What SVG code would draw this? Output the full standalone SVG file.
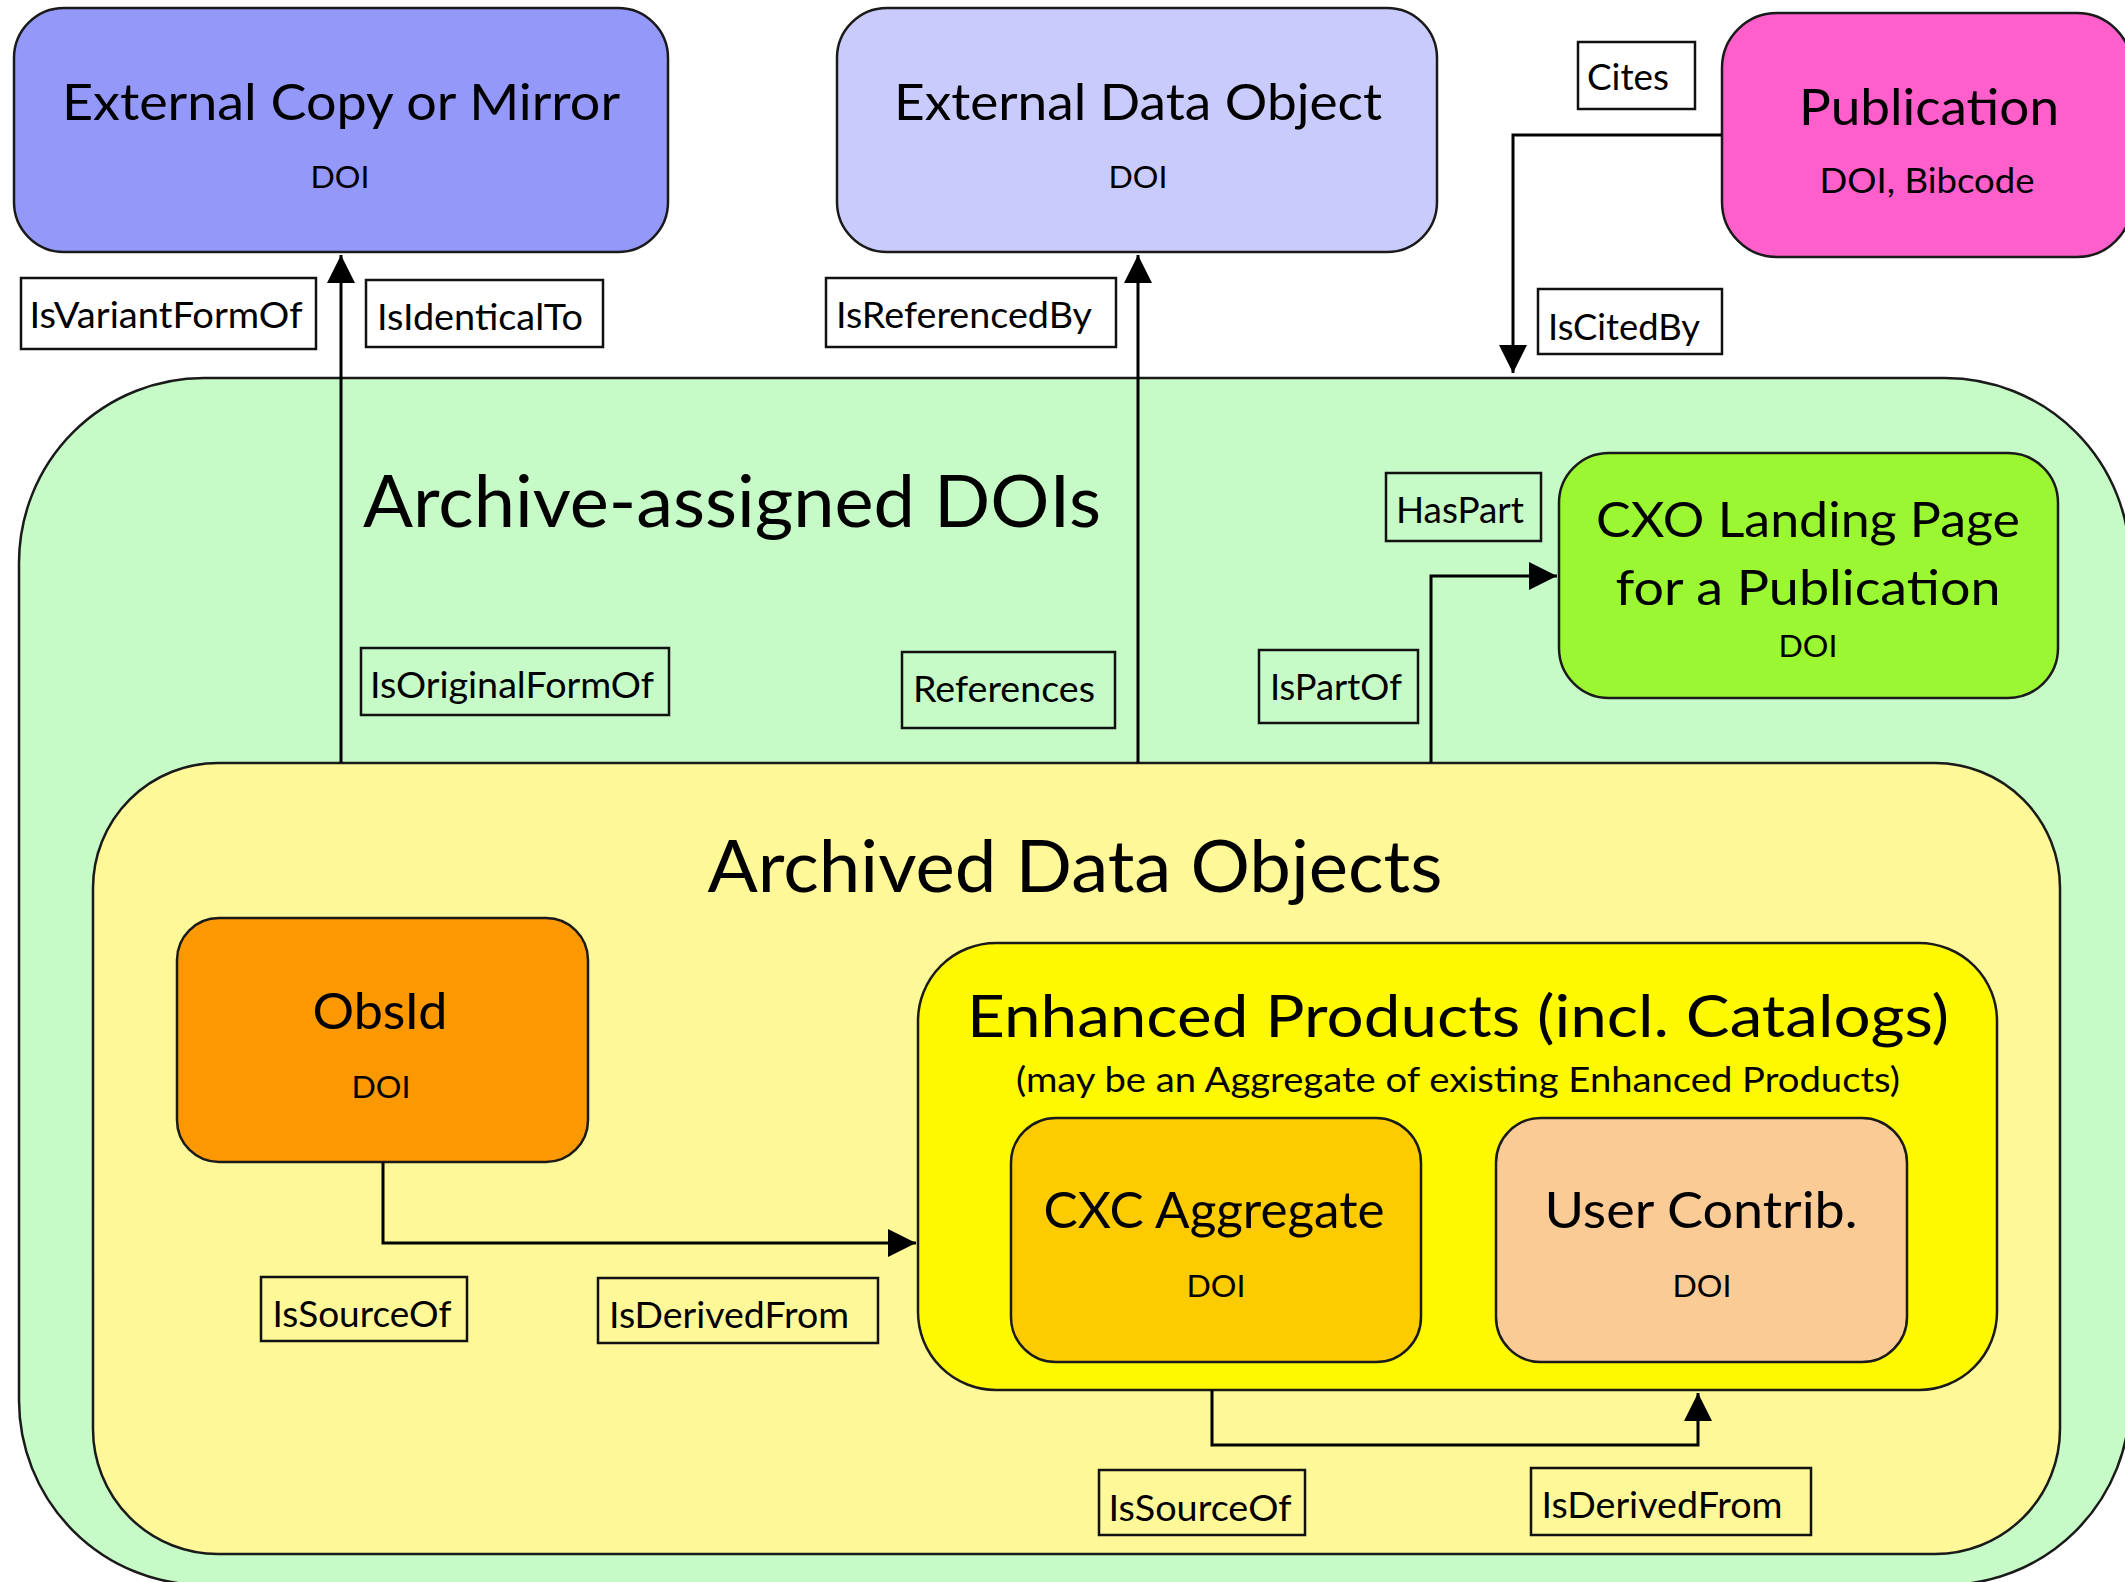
<svg xmlns="http://www.w3.org/2000/svg" width="2125" height="1582" viewBox="0 0 2125 1582">
  <style>
    text { font-family: Lato, "Open Sans", "Liberation Sans", sans-serif; fill: #000; text-anchor: middle; }
    .node { stroke: #1a1a1a; stroke-width: 2.5; }
    .lbl { fill: #ffffff; stroke: #111; stroke-width: 2.5; }
    .clear { fill: none; }
    .t-big { font-size: 72px; }
    .t-node { font-size: 51px; }
    .t-sub { font-size: 35px; }
    .t-doi { font-size: 31px; }
    .t-lab { font-size: 37px; }
    .conn { fill: none; stroke: #000; stroke-width: 3; marker-end: url(#arrow); }
  </style>
  <defs>
    <marker id="arrow" markerUnits="userSpaceOnUse" markerWidth="28" markerHeight="28" refX="28" refY="14" orient="auto">
      <path d="M0,0 L28,14 L0,28 Z" fill="#000"/>
    </marker>
  </defs>

  <rect width="2125" height="1582" fill="#ffffff"/>

  <!-- Containers -->
  <g id="archive-assigned-dois">
    <rect class="node" x="19" y="378" width="2111" height="1207" rx="185" fill="#c6fac6"/>
    <text class="t-big" x="732" y="527" textLength="738" lengthAdjust="spacingAndGlyphs">Archive-assigned DOIs</text>
  </g>

  <g id="archived-data-objects">
    <rect class="node" x="93" y="763" width="1967" height="791" rx="125" fill="#fff899"/>
    <text class="t-big" x="1075" y="892" textLength="735" lengthAdjust="spacingAndGlyphs">Archived Data Objects</text>
  </g>

  <g id="enhanced-products">
    <rect class="node" x="918" y="943" width="1079" height="447" rx="78" fill="#fff900"/>
    <text x="1458" y="1037" font-size="59" textLength="982" lengthAdjust="spacingAndGlyphs">Enhanced Products (incl. Catalogs)</text>
    <text class="t-sub" x="1458" y="1092" textLength="884" lengthAdjust="spacingAndGlyphs">(may be an Aggregate of existing Enhanced Products)</text>
  </g>

  <!-- Nodes -->
  <g id="external-copy">
    <rect class="node" x="14" y="8" width="654" height="244" rx="50" fill="#9498f9"/>
    <text class="t-node" x="341" y="120" textLength="558" lengthAdjust="spacingAndGlyphs">External Copy or Mirror</text>
    <text class="t-doi" x="340" y="188" textLength="59" lengthAdjust="spacingAndGlyphs">DOI</text>
  </g>

  <g id="external-data-object">
    <rect class="node" x="837" y="8" width="600" height="244" rx="50" fill="#c9cbfc"/>
    <text class="t-node" x="1138" y="120" textLength="488" lengthAdjust="spacingAndGlyphs">External Data Object</text>
    <text class="t-doi" x="1138" y="188" textLength="59" lengthAdjust="spacingAndGlyphs">DOI</text>
  </g>

  <g id="publication">
    <rect class="node" x="1722" y="13" width="410" height="244" rx="55" fill="#ff5fcb"/>
    <text class="t-node" x="1929" y="125" textLength="260" lengthAdjust="spacingAndGlyphs">Publication</text>
    <text class="t-sub" x="1927" y="193" textLength="215" lengthAdjust="spacingAndGlyphs">DOI, Bibcode</text>
  </g>

  <g id="cxo-landing-page">
    <rect class="node" x="1559" y="453" width="499" height="245" rx="50" fill="#9cf733"/>
    <text x="1808" y="537" font-size="49" textLength="424" lengthAdjust="spacingAndGlyphs">CXO Landing Page</text>
    <text x="1808" y="605" font-size="49" textLength="385" lengthAdjust="spacingAndGlyphs">for a Publication</text>
    <text class="t-doi" x="1808" y="657" textLength="59" lengthAdjust="spacingAndGlyphs">DOI</text>
  </g>

  <g id="obsid">
    <rect class="node" x="177" y="918" width="411" height="244" rx="42" fill="#fc9800"/>
    <text class="t-node" x="380" y="1029" textLength="135" lengthAdjust="spacingAndGlyphs">ObsId</text>
    <text class="t-doi" x="381" y="1098" textLength="59" lengthAdjust="spacingAndGlyphs">DOI</text>
  </g>

  <g id="cxc-aggregate">
    <rect class="node" x="1011" y="1118" width="410" height="244" rx="45" fill="#fccb00"/>
    <text x="1214" y="1228" font-size="50" textLength="341" lengthAdjust="spacingAndGlyphs">CXC Aggregate</text>
    <text class="t-doi" x="1216" y="1297" textLength="59" lengthAdjust="spacingAndGlyphs">DOI</text>
  </g>

  <g id="user-contrib">
    <rect class="node" x="1496" y="1118" width="411" height="244" rx="45" fill="#fbcb96"/>
    <text x="1701" y="1228" font-size="50" textLength="313" lengthAdjust="spacingAndGlyphs">User Contrib.</text>
    <text class="t-doi" x="1702" y="1297" textLength="59" lengthAdjust="spacingAndGlyphs">DOI</text>
  </g>

  <!-- Connectors -->
  <g id="connectors">
    <path class="conn" d="M341,763 V255"/>
    <path class="conn" d="M1138,763 V255"/>
    <path class="conn" d="M1722,135 H1513 V373"/>
    <path class="conn" d="M1431,763 V576 H1557"/>
    <path class="conn" d="M383,1162 V1243 H916"/>
    <path class="conn" d="M1212,1390 V1445 H1698 V1393"/>
  </g>

  <!-- Relation labels -->
  <g id="relation-labels">
    <g id="lbl-isvariantformof">
      <rect class="lbl" x="21" y="278" width="295" height="71"/>
      <text class="t-lab" x="166" y="328" textLength="273" lengthAdjust="spacingAndGlyphs">IsVariantFormOf</text>
    </g>
    <g id="lbl-isidenticalto">
      <rect class="lbl" x="366" y="280" width="237" height="67"/>
      <text class="t-lab" x="480" y="330" textLength="206" lengthAdjust="spacingAndGlyphs">IsIdenticalTo</text>
    </g>
    <g id="lbl-isreferencedby">
      <rect class="lbl" x="826" y="278" width="290" height="69"/>
      <text class="t-lab" x="964" y="328" textLength="256" lengthAdjust="spacingAndGlyphs">IsReferencedBy</text>
    </g>
    <g id="lbl-cites">
      <rect class="lbl" x="1578" y="42" width="117" height="67"/>
      <text class="t-lab" x="1628" y="90" textLength="82" lengthAdjust="spacingAndGlyphs">Cites</text>
    </g>
    <g id="lbl-iscitedby">
      <rect class="lbl" x="1538" y="289" width="184" height="65"/>
      <text class="t-lab" x="1624" y="340" textLength="152" lengthAdjust="spacingAndGlyphs">IsCitedBy</text>
    </g>
    <g id="lbl-isoriginalformof">
      <rect class="lbl clear" x="361" y="648" width="308" height="67"/>
      <text class="t-lab" x="512" y="698" textLength="284" lengthAdjust="spacingAndGlyphs">IsOriginalFormOf</text>
    </g>
    <g id="lbl-references">
      <rect class="lbl clear" x="902" y="652" width="213" height="76"/>
      <text class="t-lab" x="1004" y="702" textLength="182" lengthAdjust="spacingAndGlyphs">References</text>
    </g>
    <g id="lbl-haspart">
      <rect class="lbl clear" x="1386" y="473" width="155" height="68"/>
      <text class="t-lab" x="1460" y="523" textLength="128" lengthAdjust="spacingAndGlyphs">HasPart</text>
    </g>
    <g id="lbl-ispartof">
      <rect class="lbl clear" x="1259" y="650" width="159" height="73"/>
      <text class="t-lab" x="1336" y="700" textLength="132" lengthAdjust="spacingAndGlyphs">IsPartOf</text>
    </g>
    <g id="lbl-issourceof-obsid">
      <rect class="lbl clear" x="261" y="1277" width="206" height="64"/>
      <text class="t-lab" x="362" y="1327" textLength="179" lengthAdjust="spacingAndGlyphs">IsSourceOf</text>
    </g>
    <g id="lbl-isderivedfrom-obsid">
      <rect class="lbl clear" x="598" y="1278" width="280" height="65"/>
      <text class="t-lab" x="729" y="1328" textLength="240" lengthAdjust="spacingAndGlyphs">IsDerivedFrom</text>
    </g>
    <g id="lbl-issourceof-aggregate">
      <rect class="lbl clear" x="1099" y="1470" width="206" height="65"/>
      <text class="t-lab" x="1200" y="1521" textLength="183" lengthAdjust="spacingAndGlyphs">IsSourceOf</text>
    </g>
    <g id="lbl-isderivedfrom-aggregate">
      <rect class="lbl clear" x="1531" y="1468" width="280" height="67"/>
      <text class="t-lab" x="1662" y="1518" textLength="241" lengthAdjust="spacingAndGlyphs">IsDerivedFrom</text>
    </g>
  </g>
</svg>
